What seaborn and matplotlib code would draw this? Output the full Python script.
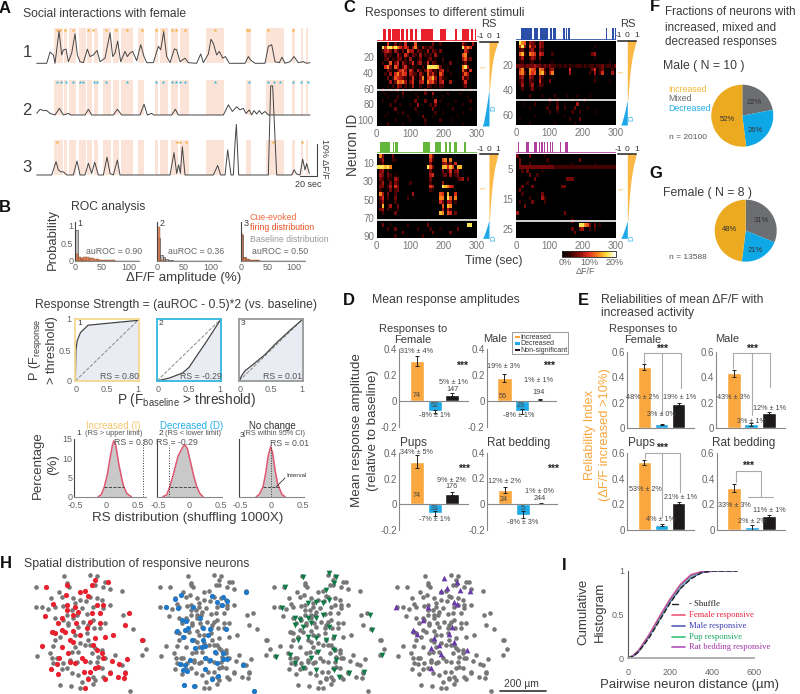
import numpy as np
import pandas as pd
import matplotlib
matplotlib.use('Agg')
import matplotlib.pyplot as plt
import seaborn as sns
from matplotlib.colors import LinearSegmentedColormap, Normalize
from matplotlib.cm import ScalarMappable
from matplotlib.patches import Rectangle

# ---------- data ----------
# A: traces (frame, dF/F %)
trace1_t = [0,30,40,50,55,60,67,75,80,88,95,105,115,122,130,140,152,160,170,181,190,205,220,228,235,243,252,265,272,280,288,300,312,322,330,350,365,372,381,390,400,413,420,430,445,455,480,492,500,515,523,530,540,548,558,566,578,625,635,642,655,685,695,705,715,728,736,745,760,772,785,800,810,820]
trace1_y = [0,0,3.5,2.6,0,4.2,10,2.6,4.2,4.4,.5,3.2,9.2,2.6,.5,.2,4.4,2.1,2.6,4,.5,1.6,9.5,2.1,3.2,6.9,.5,3.7,2.1,3.2,3.7,.8,5.8,2.1,.2,.2,5.3,4.2,9.8,2.1,.2,4.5,4.2,.5,1.6,.2,0,2.9,.2,2.9,7.5,6.2,2.6,3.7,1.6,2.1,0,0,2.1,1,0,0,5.3,5.8,.5,.2,1.9,0,.5,2.1,.2,.5,0,.2]
trace2_t = [0,10,20,30,40,55,68,80,95,102,145,155,165,230,242,255,310,322,332,345,352,405,416,425,560,575,587,600,610,620,628,638,645,652,660,668,675,685,695,820]
trace2_y = [.5,1.8,1.4,1.4,.5,0,2.1,0,.5,0,0,1.8,0,0,1.8,0,0,3.4,0,.5,0,0,1.8,0,0,3.2,1.1,2.6,1.6,2.1,.5,1.6,0,1.4,.3,1.4,.3,1.1,0,0]
trace3_t = [0,45,58,65,72,80,90,110,121,130,145,155,165,174,185,200,211,220,230,242,250,400,412,420,426,431,437,445,530,543,552,565,573,583,590,595,599,606,695,702,708,720,765,772,780,790,798,805,810,818]
trace3_y = [0,0,4.2,1.6,1,1,0,0,4.4,0,0,3.7,.5,4,0,0,5.6,.5,0,4.7,0,0,7,.5,3.2,.5,8.9,0,0,3,0,0,7.9,0,0,10,15.9,0,0,28,28,0,0,1.6,.3,0,5,1.6,3.6,.5]
shade_spans = [(53,78),(82,90),(98,118),(127,148),(152,167),(171,185),(198,222),(230,246),(252,290),(305,323),(355,365),(370,395),(403,423),(430,458),(507,563),(627,642),(688,742),(765,775),(792,798),(808,814)]
star1_t = [60,70,86,108,153,170,208,239,270,315,359,379,407,418,445,535,630,638,693,769]
star2_t = [60,73,87,108,130,138,173,182,209,270,359,380,407,418,430,445,536,638,695,713,731,770,794,814]
star3_t = [60,420,430,447,710,795]

# B: histograms
hist_edges = list(range(0, 125, 5))
hist1_base = [.88,.07,.02,.01,.005,.005]
hist1_cue = [.2,.1,.09,.11,.11,.09,.07,.05,.04,.03,.03,.02,.02,.01,.01,.005,.005]
hist2_base = [.65,.17,.1,.05,.02,.01]
hist2_cue = [.95,.03,.01,.005]
hist3_base = [.72,.1,.05,.03,.02,.01,.01]
hist3_cue = [.75,.09,.04,.03,.02,.01,.01]
auroc_labels = ['auROC = 0.90','auROC = 0.36','auROC = 0.50']

# B: ROC curves
roc1_x = [0,.01,.03,.08,.2,1]
roc1_y = [0,.5,.65,.78,.9,.98]
roc2_x = [0,.2,.4,.5,.65,.75,1]
roc2_y = [0,.05,.13,.22,.45,.6,1]
roc3_x = [0,.05,.1,.2,.4,.6,.8,1]
roc3_y = [0,.1,.17,.25,.42,.63,.82,1]

# B: shuffled RS distributions
rs1_x = [-.13,-.08,-.03,.02,.06,.1,.12,.15,.2,.25,.28,.33,.4]
rs1_y = [0,.5,2.6,6,10,13.5,14.5,13.5,8.5,4.5,2.6,.8,0]
rs2_x = [-.42,-.36,-.31,-.25,-.18,-.1,-.07,-.03,.02,.07,.12,.17,.22]
rs2_y = [0,.5,2.6,6,10.5,13,13.5,12.5,9,5.5,2.6,.8,0]
rs3_x = [-.24,-.19,-.13,-.09,-.05,-.01,.02,.06,.1,.12,.17,.22]
rs3_y = [0,.6,2.6,6,10.5,13,11.5,7,3.5,2.6,.6,0]

# C: heatmaps, one digit per 7.5 s bin
heat1 = [
 "0000500302050006000000300200000000420040",
 "0095997975354047204213200000000000957500",
 "0024530420306440320140320300000000053000",
 "0003120042053032040212041000000000671000",
 "0002302133020400130023010020000000462300",
 "0020160350420250340150320010030000130000",
 "0005730640352021002099998300100000794000",
 "0000320135640530420364220450200000630500",
 "0002040574650432042063520640010000364000",
 "0000302654320251037056840421000000523000",
 "0000040376740350045075630450040000251000",
 "0000102043020140020032010220000000130000",
 "0020010130200100010201000100000000100100",
 "0001000000300001000300400000200001000000",
 "0000100020100000200000100010000000001000",
 "0010000200000003000300050100000100000200",
 "0000020001000100400002030000100000100000",
 "0000000300000002000000300000002000000100",
 "0000100010200000100000020010000000100000",
 "0001000000002000003000100000000010000000",
 "0000000100000100000200000200001000000000",
 "0000200000100000000100000000000000100000"]
heat2 = [
 "0976043204300000000000000000000000000000",
 "0594063404300000000000000000000100000000",
 "0230034103200000000000000000000000000000",
 "0682076505400020000000000000003400000000",
 "0240024303000000000000000000000100000000",
 "0120012001000010000000000000000000000100",
 "3332333433232322121212112212122122312213",
 "0571076507620340000005000000003502300020",
 "0673075607830470000004000000020402500040",
 "0340043004200000000000000000000100000000",
 "0230032005100300000000000000000200000100",
 "0140024003200000000000000000000000000000",
 "0020013001000000000000000000000000000000",
 "0000000000000000000000000000000000000000",
 "0000020000100002000010001000010000000000",
 "0000000000000300200000100002000000000000",
 "0001000200000100200100004000000000000000",
 "0000010000002000300200030000100000000000",
 "0000000000000200100000200200000100000000",
 "0000000100000000000100000000000000000000",
 "0100000000000000000002000300000000000000",
 "0000010000000001000000010000000000000000"]
heat3 = [
 "0730003000000000000006300000000000000000",
 "0240002100000000000005200067070000000000",
 "0130000000000000000003000034230500000000",
 "9998970000000000000096300088586088000000",
 "0340200000000000000003000030250340000000",
 "0430320100000000000004500023040230000000",
 "0320210430000000000003000000000023403000",
 "0240030320000200000002000040000000000000",
 "0330240530000000000005400098754000000000",
 "0200030230000000000002100000000000000000",
 "0740300200000040000000000650800500000000",
 "0350200300002000000000000770960700000000",
 "0240100200000000000000000530440200000000",
 "0180140030000000000000000060870000000000",
 "0340210020000000000000000040420000000000",
 "0020000300000000000000000870650300000000",
 "0000000000000000000000000000000000000000",
 "0000000000000000000000000000000000000000",
 "0030010000002000000030000000000000009900",
 "0000200300000000200002000100000030000000",
 "0000000000300000000000300000030000000000",
 "0000000200000000002000000000000000000000"]
heat4 = [
 "3000030000010000000000000000000000000000",
 "0300000000002000000000000300000000000000",
 "0300020000000100000000100000000100000000",
 "0333333333333332222222222222222222222222",
 "0020300000100000000000000000000000000000",
 "0000030020000000000000000000000000000000",
 "0000000300000000000033300000000000000000",
 "0000200000000000000000000000000000000000",
 "0030003000000000003300000000000000000000",
 "0300000000000000000000000000000000000000",
 "0020000000300000000000000000000000000000",
 "0000020000420000000000000000000000000000",
 "0200003000020000000000000000000000000000",
 "0003000000000000000000000000000000000000",
 "0000000000000000000000000000000000000000",
 "4000000000000000000300000000000000000000",
 "0000000000000000000000000000000000000000",
 "0000000000000000000000300000000000000000",
 "0000000000000000000000000997630302000000",
 "0000000000000000000000300340020200000000",
 "0000000000000000000000030000000000000000",
 "0000000000000000000000000000000000000000"]
heat_ids = [108, 68, 92, 28]
heat_ticks = [[20,40,60,80,100],[20,40,60],[10,30,50,70,90],[5,15,25]]
heat_split = [.577,.709,.783,.79]
stim1 = [(20,27),(34,43),(46,69),(74,82),(87,95),(100,108),(114,120),(134,170),(190,209),(235,241),(257,276),(283,288),(294,298),(301,304)]
stim2 = [(14,48),(55,67),(73,96),(102,107),(111,119),(142,146),(150,154),(157,161),(270,273),(288,295),(297,300)]
stim3 = [(10,27),(28,41),(48,51),(54,63),(138,159),(174,194),(205,212),(216,222),(233,240),(263,267)]
stim4 = [(5,9),(31,40),(55,63),(68,71),(76,80),(84,88),(92,96),(102,105),(109,111),(132,136),(146,149),(151,155)]
rs_inc = [1,.85,.7,.58,.48,.4,.33,.27,.22,.17,.13,.09,.05]
rs_dec = [-.04,-.08,-.12,-.17,-.22,-.27,-.33,-.38,-.44,-.5,-.56,-.63,-.75]

# D / E bars
bar_names = ['Increased','Decreased','Non-significant']
amp_vals = [[.31,-.08,.05],[.18,-.08,.01],[.335,-.07,.085],[.11,-.08,.005]]
amp_errs = [[.04,.01,.01],[.03,.02,.005],[.05,.02,.015],[.025,.03,.003]]
rel_vals = [[.48,.03,.19],[.43,.03,.12],[.53,.04,.21],[.33,.02,.11]]
rel_errs = [[.025,.005,.01],[.03,.01,.01],[.02,.01,.01],[.03,.02,.01]]

# F / G pies
pie_labels = ['Mixed','Decreased','Increased']
male_frac = [22,26,52]
female_frac = [31,21,48]

# H: neuron positions (200 um = 138 units)
grey_x = [122,155,190,228,260,275,195,240,210,300,78,95,115,135,160,185,215,250,280,230,200,170,135,190,160,175,220,250,285,130,175,205,235,270,150,135,130,195,230,252,210,235,195,225,240,255,275,185,205,245,265,120,125,80,160,140,180,200,240,260,285,315,170,155,185,205,215,235,250,255,150,182,210,250,360,340,368,400,408,395,335,300,280,345,130,275,162,240,262,78,178,147,255,278,301,336,170,286]
grey_y = [25,22,25,32,25,30,40,20,30,45,50,50,58,50,48,60,55,50,55,72,75,75,85,85,90,100,95,90,100,125,105,110,105,115,140,150,168,135,130,115,160,150,170,165,165,175,180,185,185,190,200,188,203,198,218,205,210,215,215,215,205,195,235,238,250,255,275,265,260,270,285,288,295,283,302,75,118,150,178,195,225,245,260,245,220,235,-42,-45,-43,-8,-10,5,-15,-10,-2,3,-20,-25]
red_x = [168,210,233,128,105,172,195,260,278,358,155,172,190,205,245,270,145,198,240,270,345,125,135,155,165,190,230,210,310,285,395,97,180,190,255,250,157,260,175,275,147,180,215,225,280,305,352,140,195,265,122,143,222,240,255,300,345,323,342,285,235,225,328,255,247,293,109,170,224]
red_y = [15,5,18,42,78,45,50,45,45,70,85,60,75,65,70,70,100,100,95,100,105,125,130,120,125,122,115,135,135,140,150,167,150,155,145,165,172,180,190,190,205,215,205,212,205,212,208,222,220,230,238,252,245,245,235,250,248,262,265,268,268,295,222,-30,-15,-25,-10,-15,3]
blue_x = [123,140,96,133,178,233,248,268,280,263,198,143,156,128,153,163,208,228,276,146,173,223,208,183,203,213,243,268,168,213,228,248,268,280,138,153,148,158,213,253,233,328,150,181,360,336]
blue_y = [28,15,52,55,50,18,35,20,32,45,85,90,92,122,120,115,115,118,117,142,150,135,150,175,172,168,185,190,210,205,210,220,208,208,222,225,240,242,237,258,268,225,285,288,302,5]
green_x = [165,242,265,111,257,234,180,203,226,242,103,142,157,180,203,226,142,165,188,242,365,372,180,203,234,257,149,403,85,126,211,257,265,188,142,165,203,257,303,349,272]
green_y = [-40,-50,-40,-10,-20,0,40,35,40,30,55,85,90,85,85,75,105,110,100,110,75,120,140,145,150,140,150,195,200,195,185,180,210,205,220,235,240,240,250,245,260]
purple_x = [219,258,227,211,268,296,76,170,250,258,157,242,127,137,188,235,181,204,211,288,181,250]
purple_y = [-35,-25,-5,3,0,3,52,50,35,42,90,110,120,132,145,132,175,165,192,180,235,155]

# I: cumulative histograms
dist_um = [0,25,50,100,150,200,250,300,350,400,450,520]
cum_shuffle = [0,.02,.07,.23,.43,.63,.8,.91,.98,1,1,1]
cum_female = [0,.03,.09,.27,.48,.68,.85,.96,.995,1,1,1]
cum_male = [0,.02,.07,.24,.44,.64,.8,.92,.98,.995,1,1]
cum_pup = [0,.03,.08,.25,.45,.66,.83,.94,.99,1,1,1]
cum_rat = [0,.03,.08,.26,.47,.67,.84,.95,.99,1,1,1]

# ---------- setup ----------
sns.set_style('white')
plt.rcParams['font.family'] = ['Liberation Sans', 'DejaVu Sans']
plt.rcParams['mathtext.default'] = 'regular'

DARK = '#3c3c3c'
GREY = '#7a7a7a'
ORANGE = '#f9a73e'
CYAN = '#1fa9e6'
W, H = 800, 694

fig = plt.figure(figsize=(8, 6.94), dpi=100)

def ax_px(x0, y0, x1, y1):
    # axes from picture pixels, y counted from the top
    ax = fig.add_axes([x0/W, 1-y1/H, (x1-x0)/W, (y1-y0)/H])
    ax.patch.set_alpha(0)
    return ax

def clean(ax, color='#888888', lw=.8):
    for s in ['top','right']:
        ax.spines[s].set_visible(False)
    for s in ['left','bottom']:
        ax.spines[s].set_color(color)
        ax.spines[s].set_linewidth(lw)
    ax.set_xlabel('')
    ax.set_ylabel('')
    ax.tick_params(length=2, width=.6, color=color, labelcolor='#666666', labelsize=6.5, pad=1.5, direction='in')

ov = ax_px(0, 0, W, H)
ov.set_xlim(0, W)
ov.set_ylim(H, 0)
ov.axis('off')
ov.set_zorder(20)

def t(x, y, s, size=7, color=DARK, ha='center', **kw):
    ov.text(x, y, s, fontsize=size, color=color, ha=ha, va='center', **kw)

for s, x, y in [('A',5,8),('B',5,207),('C',349,7),('D',349,300),('E',583,300),('F',655,6),('G',656,173),('H',6,564),('I',564,566)]:
    t(x, y, s, size=12, color='#111111', fontweight='bold')

# ---------- A ----------
t(23, 14, 'Social interactions with female', size=8.7, ha='left')
traces = [(trace1_t,trace1_y,star1_t,'#f5a623',28,63.3),(trace2_t,trace2_y,star2_t,'#2fb8dc',80,115),(trace3_t,trace3_y,star3_t,'#f5a623',140,175)]
for tt, yy, stars, scol, top, bot in traces:
    ax = ax_px(36.7, top, 310, bot)
    for a, b in shade_spans:
        ax.axvspan(a, b, color='#fce3d8', lw=0)
    sns.lineplot(x=tt, y=yy, color='#444444', lw=.7, ax=ax, clip_on=False, errorbar=None, sort=False)
    sns.scatterplot(x=stars, y=[10.5]*len(stars), color=scol, s=7, marker='*', linewidth=0, ax=ax)
    ax.set_xlim(0, 820)
    ax.set_ylim(0, 11)
    ax.axis('off')
for lab, y in [('1',52),('2',110),('3',167)]:
    t(27, y, lab, size=12)
ov.plot([317.3,317.3,300],[144,175.7,175.7], color='#444444', lw=.8)
t(324, 159, '10% ΔF/F', size=6.5, rotation=270)
t(308, 184, '20 sec', size=6.5)

# ---------- B histograms ----------
t(71, 207, 'ROC analysis', size=8.7, ha='left')
t(53, 239, 'Probability', size=9.4, rotation=90)
hists = [(hist1_base,hist1_cue,75.3),(hist2_base,hist2_cue,157.3),(hist3_base,hist3_cue,240.7)]
for i, (base, cue, x0) in enumerate(hists):
    ax = ax_px(x0, 222, x0+64, 260.7)
    cb = [hist_edges[k]+2.5 for k in range(len(base))]
    cc = [hist_edges[k]+2.5 for k in range(len(cue))]
    sns.histplot(x=cb, weights=base, bins=hist_edges, color='#b8b8b8', edgecolor='#333333', linewidth=.4, alpha=.9, ax=ax)
    sns.histplot(x=cc, weights=cue, bins=hist_edges, color='#d9703a', edgecolor='#8a4a30', linewidth=.3, alpha=.8, ax=ax)
    clean(ax)
    ax.set_xlim(0, 120)
    ax.set_ylim(0, 1.1)
    ax.set_xticks([0,50,100])
    ax.set_yticks([0,.5,1] if i == 0 else [0,1])
    ax.set_yticklabels(['0','0.5','1'] if i == 0 else [])
    ax.spines['left'].set_color('#444444')
    t(x0+39, 251, auroc_labels[i], size=6.3, color='#666666')
    t(x0+5, 223, str(i+1), size=6.5)
t(250, 217, 'Cue-evoked', size=6.3, color='#ef6a3a', ha='left')
t(250, 227, 'firing distribution', size=6.3, color='#e8501f', ha='left')
t(250, 239, 'Baseline distribution', size=6.3, color='#999999', ha='left')
t(184, 278, 'ΔF/F amplitude (%)', size=9.6)
t(176, 305, 'Response Strength = (auROC - 0.5)*2 (vs. baseline)', size=8.7)

# ---------- B ROC ----------
rocs = [(roc1_x,roc1_y,75.3,'#f7d88f','RS = 0.80'),(roc2_x,roc2_y,157,'#33b8e0','RS = -0.29'),(roc3_x,roc3_y,239,'#999999','RS = 0.01')]
for i, (rx, ry, x0, col, lab) in enumerate(rocs):
    ax = ax_px(x0, 319, x0+64, 381)
    ax.fill_between(rx, ry, 0, color='#e9ecf2', lw=0)
    ax.plot([0,1],[0,1], color='#888888', lw=.7, ls='--')
    sns.lineplot(x=rx, y=ry, color='#444444', lw=.9, ax=ax, errorbar=None)
    clean(ax)
    for s in ax.spines.values():
        s.set_visible(True)
        s.set_color(col)
        s.set_linewidth(1.3)
    ax.set_xlim(0, 1)
    ax.set_ylim(0, 1)
    ax.set_xticks([.02,.5,.98])
    ax.set_xticklabels(['0','0.5','1'])
    ax.tick_params(bottom=False, left=False, pad=3)
    ax.set_yticks([0,.5,1] if i == 0 else [])
    if i == 0:
        ax.set_yticklabels(['0','0.5','1'])
    t(x0+44, 376, lab, size=6.3, color='#555555')
    t(x0+4, 323.5, str(i+1), size=6)
t(35, 350, r'P (F$_{response}$', size=9.2, rotation=90)
t(52, 350, '> threshold)', size=9.2, rotation=90)
t(187, 400, r'P (F$_{baseline}$ > threshold)', size=9.8)

# ---------- B shuffle ----------
shuf = [(rs1_x,rs1_y,74.3,146,.585,14.9),(rs2_x,rs2_y,157.3,222,-.33,13.5),(rs3_x,rs3_y,239.3,304,-.0,14.5)]
for i, (sx, sy, x0, x1, mark, mh) in enumerate(shuf):
    ax = ax_px(x0, 439, x1, 496.7)
    ax.fill_between(sx, sy, 0, color='#c9c9c9', lw=0)
    sns.lineplot(x=sx, y=sy, color='#e0566e', lw=1.1, ax=ax, errorbar=None)
    ax.plot([mark,mark],[0,mh], color='#333333', lw=.7, ls=':')
    clean(ax)
    ax.spines['left'].set_color('#444444')
    lo = -.5 - 1.2/62.7*.5
    ax.set_xlim(lo, lo + (x1-x0)/62.7*1)
    ax.set_ylim(0, 15)
    ax.set_xticks([-.5,0,.5])
    ax.set_xticklabels(['-0.5','0','0.5'])
    ax.tick_params(axis='x', pad=3)
    ax.set_yticks([0,5,10,15] if i == 0 else [])
    if i == 0:
        ax.set_yticklabels(['0','5','10','15'])
    hw = {0:(-.03,.28),1:(-.31,.12),2:(-.13,.12)}[i]
    ax.plot(hw,[2.6,2.6], color='#333333', lw=.6, ls='--')
t(113, 426, 'Increased (I)', size=7, color='#f5c66e')
t(114, 433.5, '(RS > upper limit)', size=5.3, color='#555555')
t(192, 426, 'Decreased (D)', size=7, color='#25aee8')
t(193, 433.5, '(RS < lower limit)', size=5.3, color='#555555')
t(272, 426, 'No change', size=7, color='#333333')
t(274, 433.5, '(RS within 95% CI)', size=5.3, color='#555555')
t(79, 433, '1', size=6)
t(161, 433, '2', size=6)
t(242, 435, '3', size=6)
t(133, 442, 'RS = 0.80', size=6.3, color='#555555')
t(177, 442, 'RS = -0.29', size=6.3, color='#555555')
t(290, 443.5, 'RS = 0.01', size=6.3, color='#555555')
t(297, 475, 'Interval', size=4.5, color='#333333')
ov.annotate('', xy=(274,489), xytext=(287,476), arrowprops=dict(arrowstyle='-', color='#333333', lw=.6))
t(38, 465, 'Percentage', size=9.5, rotation=90)
t(53, 465, '(%)', size=9.5, rotation=90)
t(188, 518, 'RS distribution (shuffling 1000X)', size=9.6)

# ---------- C ----------
t(365, 13, 'Responses to different stimuli', size=8.7, ha='left')
heat_cmap = LinearSegmentedColormap.from_list('heat', ['#000000','#3a0000','#8b0a0a','#e0301e','#f77f1a','#fde23c','#ffffff'])
panels_c = [(heat1,stim1,'#e8202c',376.7,41.7,489,1),(heat2,stim2,'#2b4fa8',516,40.7,627.3,2),(heat3,stim3,'#63b83c',376.7,154,489,3),(heat4,stim4,'#b03fa0',516,154,627.3,4)]
for k, (rows, stim, col, x0, y0, rc, num) in enumerate(panels_c):
    vals = np.array([[int(c)*1.9 for c in r.ljust(40,'0')[:40]] for r in rows])
    ax = ax_px(x0, y0, x0+100, y0+84.3)
    sns.heatmap(pd.DataFrame(vals), cmap=heat_cmap, vmin=0, vmax=20, cbar=False, xticklabels=False, yticklabels=False, ax=ax)
    n = vals.shape[0]
    ax.set_xticks([0,100/7.5,200/7.5,300/7.5])
    ax.set_xticklabels(['0','100','200','300'], rotation=0)
    ax.set_yticks([v*n/heat_ids[k] for v in heat_ticks[k]])
    ax.set_yticklabels([str(v) for v in heat_ticks[k]], rotation=0)
    ax.tick_params(length=0, labelsize=7, labelcolor='#777777', pad=2)
    ax.axhline(heat_split[k]*n, color='#e6e6e6', lw=1.3)

    top = ax_px(x0, y0-12.5, x0+100, y0-1)
    for a, b in stim:
        top.axvspan(a, b, color=col, lw=0)
    top.axhline(0, color=col, lw=1.2)
    top.set_xlim(0, 300)
    top.set_ylim(0, 1)
    top.axis('off')

    # sorted response strength next to the heatmap
    rs = ax_px(rc-9, y0, rc+9, y0+84.3)
    split = heat_split[k]
    f_inc = [split*j/(len(rs_inc)-1) for j in range(len(rs_inc))]
    f_dec = [split+.01+(1-split-.01)*j/(len(rs_dec)-1) for j in range(len(rs_dec))]
    rs.fill_betweenx(f_inc, 0, rs_inc, color='#fbb845', lw=0)
    rs.fill_betweenx(f_dec, 0, rs_dec, color='#1ca7e8', lw=0)
    rs.set_xlim(-1, 1)
    rs.set_ylim(1, 0)
    for s in ['left','right','bottom']:
        rs.spines[s].set_visible(False)
    rs.spines['top'].set_color('#222222')
    rs.spines['top'].set_linewidth(1.1)
    rs.xaxis.tick_top()
    rs.set_xticks([-1,0,1])
    rs.set_xticklabels(['-1','0','1'])
    rs.set_yticks([])
    rs.tick_params(length=0, labelsize=6, labelcolor='#333333', pad=1)
    t(rc+5, y0+split*84.3+18, 'D', size=5.5, color='#2fb0e8', rotation=90)
    t(rc-5.5, y0+split*84.3*.52, 'I', size=5.5, color='#fbb845', rotation=90)
t(489, 24, 'RS', size=8)
t(628, 24, 'RS', size=8)
t(353, 145, 'Neuron ID', size=9.8, rotation=90)
t(494, 261, 'Time (sec)', size=8.8)
cax = ax_px(561.7, 250.7, 615.7, 256.7)
cb = fig.colorbar(ScalarMappable(norm=Normalize(0, 20), cmap=heat_cmap), cax=cax, orientation='horizontal')
cb.set_ticks([])
cb.outline.set_linewidth(.6)
t(565, 262.5, '0%', size=6.5, color='#666666')
t(589.5, 262.5, '10%', size=6.5, color='#666666')
t(614.5, 262.5, '20%', size=6.5, color='#666666')
t(586, 271.5, 'ΔF/F', size=6.5, color='#666666')

# ---------- D / E ----------
bar_cols = [ORANGE, CYAN, '#1c1a1a']
def bars(vals, errs, box, ylim, ticks):
    ax = ax_px(*box)
    sns.barplot(x=bar_names, y=vals, hue=bar_names, palette=bar_cols, legend=False, errorbar=None, width=.8, saturation=1, ax=ax)
    ax.errorbar(range(3), vals, yerr=errs, fmt='none', ecolor='#222222', capsize=1.6, lw=.7, capthick=.7)
    clean(ax)
    ax.set_xlim(-1, 2.9)
    ax.set_ylim(*ylim)
    ax.set_xticks([])
    ax.set_yticks(ticks)
    ax.set_yticklabels([('%g' % v) for v in ticks])
    ax.tick_params(labelsize=7)
    ax.spines['bottom'].set_position(('data', 0))
    return ax

d_boxes = [(399.3,349.3,468.3,427),(486.7,349.3,556,427),(399.3,453.3,468.3,530),(487.3,452.7,556.7,530)]
e_boxes = [(627.3,351.7,694,428.3),(716,351.7,785,428.3),(627.3,453.3,694,530),(716.7,453.3,785,530)]
for i in range(4):
    bars(amp_vals[i], amp_errs[i], d_boxes[i], (-.2,.4), [-.2,0,.2,.4])
    bars(rel_vals[i], rel_errs[i], e_boxes[i], (0,.6), [0,.2,.4,.6])

d_notes = [(231,33,'31% ± 4%'),(230,167,'74'),(283,195,'52'),(285,225,'-8% ± 1%'),(341,127,'5% ± 1%'),(337,148,'147'),
 (490,78,'19% ± 3%'),(487,168,'56'),(543,195,'23'),(537,227,'-8% ± 1%'),(595,122,'1% ± 1%'),(595,157,'194'),
 (230,338,'34% ± 5%'),(230,465,'74'),(283,505,'31'),(285,538,'-7% ± 1%'),(335,420,'9% ± 2%'),(335,440,'176'),
 (493,423,'12% ± 2%'),(490,478,'24'),(547,505,'5'),(548,548,'-8% ± 3%'),(598,453,'1% ± 0%'),(598,476,'244')]
for zx, zy, s in d_notes:
    t(340+zx/3, 340+zy/3, s, size=5.2, color='#444444')
for zx, zy in [(365,77),(627,77),(373,388),(638,388)]:
    t(340+zx/3, 340+zy/3, '***', size=7.5, color='#222222', fontweight='bold')

e_notes = [(218,173,'48% ± 2%'),(273,222,'3% ± 0%'),(328,173,'19% ± 1%'),(490,173,'43% ± 3%'),(543,243,'3% ± 1%'),(598,205,'12% ± 1%'),
 (225,447,'53% ± 2%'),(271,538,'4% ± 1%'),(333,472,'21% ± 1%'),(492,497,'33% ± 3%'),(546,545,'2% ± 2%'),(597,510,'11% ± 1%')]
for zx, zy, s in e_notes:
    t(570+zx/3, 340+zy/3, s, size=5.2, color='#444444')
brackets = [[(222,70,222,40),(222,40,332,40),(332,40,332,145),(277,40,277,225)],
 [(490,85,490,40),(490,40,600,40),(600,40,600,142),(547,40,547,225)],
 [(225,355,225,338),(225,338,330,338),(330,338,330,455),(277,338,277,530)],
 [(497,425,497,392),(497,392,572,392),(572,392,572,470),(535,470,610,470)]]
for br in brackets:
    for a, b, c, d in br:
        ov.plot([570+a/3,570+c/3],[340+b/3,340+d/3], color='#aaaaaa', lw=.8)
for zx, zy in [(277,27),(547,27),(277,324),(535,378)]:
    t(570+zx/3, 340+zy/3, '***', size=7.5, color='#222222', fontweight='bold')

t(372, 300, 'Mean response amplitudes', size=8.8, ha='left')
t(413, 329, 'Responses to', size=8)
t(413, 340, 'Female', size=8)
t(495, 339, 'Male', size=8)
t(413, 443, 'Pups', size=8.5)
t(519, 443, 'Rat bedding', size=8.5)
t(357, 430, 'Mean response amplitude', size=9.6, rotation=90)
t(373, 430, '(relative to baseline)', size=9.6, rotation=90)
ov.add_patch(Rectangle((512,332), 56, 22, fc='white', ec='#999999', lw=.7, zorder=5))
for y, c, s in [(337,ORANGE,'Increased'),(343.5,CYAN,'Decreased'),(350,'#1c1a1a','Non-significant')]:
    ov.add_patch(Rectangle((514.5,y-1.2), 5, 2.4, fc=c, ec='none', zorder=6))
    ov.text(520.5, y, s, fontsize=5, color='#333333', va='center', zorder=6)

t(601, 300, 'Reliabilities of mean ΔF/F with', size=8.7, ha='left')
t(601, 313, 'increased activity', size=8.7, ha='left')
t(643, 329, 'Responses to', size=8)
t(643, 340, 'Female', size=8)
t(727, 339, 'Male', size=8)
t(641, 443, 'Pups', size=8.5)
t(744, 443, 'Rat bedding', size=8.5)
t(590, 435, 'Reliability Index', size=9.3, rotation=90, color=ORANGE)
t(605, 435, '(ΔF/F increased >10%)', size=9.3, rotation=90, color=ORANGE)

# ---------- F / G ----------
pie_cols = ['#6d6e71', '#0fa8e6', '#ebaa1f']
t(665, 12, 'Fractions of neurons with', size=8.4, ha='left')
t(665, 27, 'increased, mixed and', size=8.4, ha='left')
t(665, 42, 'decreased responses', size=8.4, ha='left')
t(663, 66, 'Male ( N = 10 )', size=8.8, ha='left')
t(668, 89, 'Increased', size=6.3, color='#f2b632', ha='left')
t(668, 98, 'Mixed', size=6.3, color='#666666', ha='left')
t(668, 108, 'Decreased', size=6.3, color=CYAN, ha='left')
t(669, 137, 'n = 20100', size=6, color='#555555', ha='left')
t(663, 193, 'Female ( N = 8 )', size=8.8, ha='left')
t(669, 257, 'n = 13588', size=6, color='#555555', ha='left')
for frac, cx, cy, pos in [(male_frac,742.3,115.7,[(754.3,102.3),(755.7,130),(727.3,119)]),(female_frac,745.7,230.7,[(761.7,220),(755,250),(730,229.3)])]:
    ax = ax_px(cx-31, cy-31, cx+31, cy+31)
    ax.pie(frac, colors=pie_cols, startangle=90, counterclock=False, radius=1, wedgeprops=dict(lw=0))
    ax.set_xlim(-1, 1)
    ax.set_ylim(-1, 1)
    for (x, y), v in zip(pos, frac):
        t(x, y, '%d%%' % v, size=5.5, color='#333333')

# ---------- H ----------
t(24, 564, 'Spatial distribution of responsive neurons', size=8.8, ha='left')
all_x = grey_x + red_x
all_y = grey_y + red_y
spatial = [(0,red_x,red_y,'#e8212e','o',14),(124,blue_x,blue_y,'#1f78c8','o',14),(238,green_x,green_y,'#0e7a46','v',17),(361,purple_x,purple_y,'#6a3aa8','^',17)]
for off, hx, hy, col, mk, sz in spatial:
    ax = ax_px(off, 570, off+160, 694)
    if off == 0:
        gx, gy = grey_x, grey_y
    else:
        gx, gy = all_x, all_y
    sns.scatterplot(x=gx, y=gy, color='#777777', marker='o', s=11, linewidth=0, ax=ax, clip_on=False)
    sns.scatterplot(x=hx, y=hy, color=col, marker=mk, s=sz, linewidth=0, ax=ax, clip_on=False)
    ax.set_xlim(-30, 450)
    ax.set_ylim(312, -60)
    ax.axis('off')
ov.plot([500,546],[691,691], color='#333333', lw=1.2)
t(521, 684, '200 µm', size=7.5)

# ---------- I ----------
cum_series = pd.DataFrame({'dist': dist_um*5,
    'frac': cum_shuffle+cum_female+cum_male+cum_pup+cum_rat,
    'kind': ['Shuffle']*12+['Female']*12+['Male']*12+['Pup']*12+['Rat']*12})
cum_cols = {'Shuffle':'#222222','Female':'#ee5a78','Male':'#5560b8','Pup':'#3cc47c','Rat':'#b050b8'}
ax = ax_px(628, 571, 754, 658)
sns.lineplot(data=cum_series[cum_series.kind != 'Shuffle'], x='dist', y='frac', hue='kind', palette=cum_cols, lw=.9, legend=False, errorbar=None, ax=ax)
sns.lineplot(data=cum_series[cum_series.kind == 'Shuffle'], x='dist', y='frac', color='#222222', lw=1, ls='--', errorbar=None, ax=ax)
clean(ax)
ax.spines['bottom'].set_color('#aaaaaa')
ax.spines['bottom'].set_linewidth(1.3)
ax.spines['left'].set_color('#555555')
ax.set_xlim(0, 600)
ax.set_ylim(0, 1)
ax.set_xticks([0,200,400,600])
ax.set_yticks([0,.5,1])
ax.set_yticklabels(['0','0.5','1'])
ax.tick_params(axis='x', pad=7)
ax.tick_params(axis='y', pad=3)
ax.set_xlabel('')
ax.set_ylabel('')
i_items = [(604,'- Shuffle','#222222','#222222'),(615,'Female responsive','#ee5a78','#e8203c'),(626,'Male responsive','#5560b8','#3a3ab0'),(636.6,'Pup responsive','#3cc47c','#18a860'),(647,'Rat bedding responsive','#b050b8','#a030a8')]
for y, s, lc, tc in i_items:
    if s.startswith('-'):
        ov.plot([672,678],[y,y], color=lc, lw=1)
    else:
        ov.plot([672,685],[y,y], color=lc, lw=1.2)
    ov.text(689, y, s, fontsize=6.2, color=tc, va='center', family=['Liberation Serif'])
t(583, 612, 'Cumulative', size=9.5, rotation=90)
t(600, 612, 'Histogram', size=9.5, rotation=90)
t(690, 685, 'Pairwise neuron distance (µm)', size=9.5)

fig.savefig('out.png', dpi=100)
